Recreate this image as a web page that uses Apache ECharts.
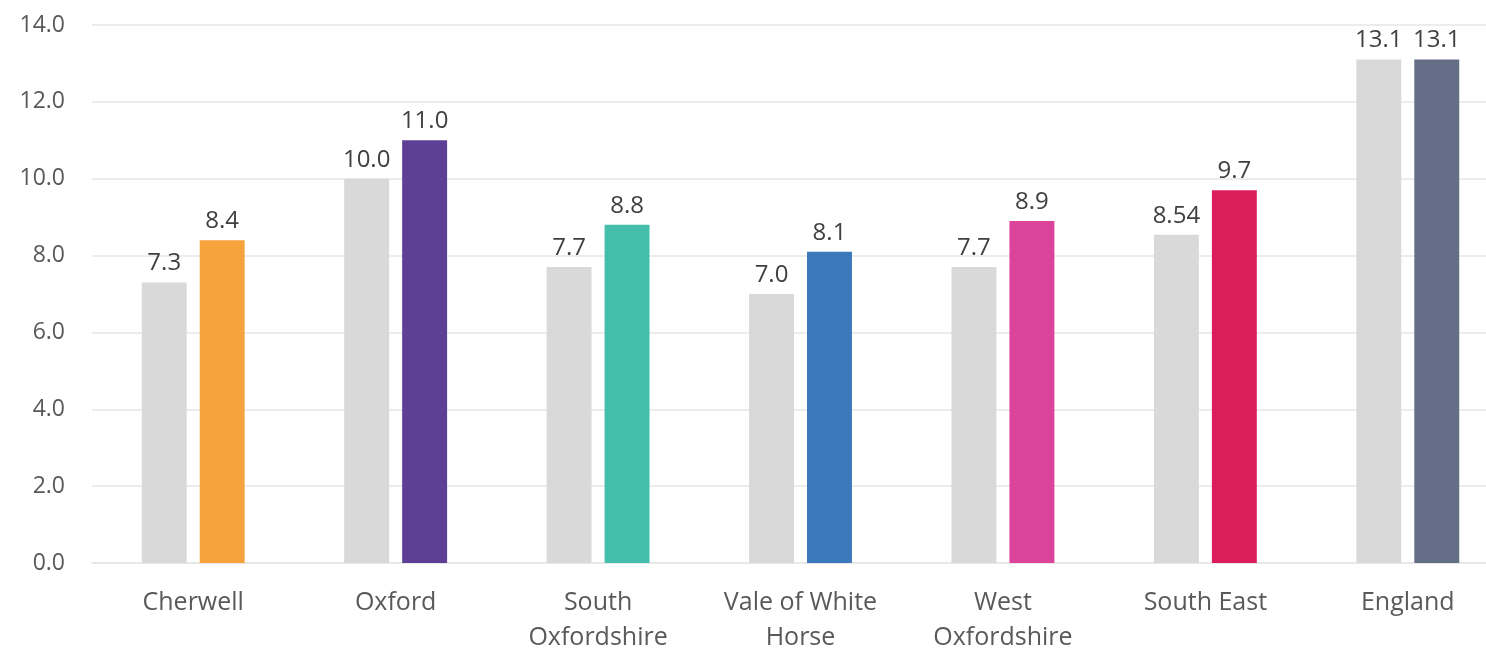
<!DOCTYPE html>
<html>
<head>
<meta charset="utf-8">
<style>
  html, body { margin: 0; padding: 0; background: #ffffff; }
  #chart { width: 1486px; height: 648px; }
</style>
<script src="https://cdn.jsdelivr.net/npm/echarts@6/dist/echarts.min.js"></script>
</head>
<body>
<div id="chart"></div>
<script>
// Area names along the x axis
const categories = ['Cherwell', 'Oxford', 'South\nOxfordshire', 'Vale of White\nHorse', 'West\nOxfordshire', 'South East', 'England'];

// Earlier period (grey bars) and later period (coloured bars)
const earlierValues = [7.3, 10.0, 7.7, 7.0, 7.7, 8.54, 13.1];
const laterValues   = [8.4, 11.0, 8.8, 8.1, 8.9, 9.7, 13.1];

// Value labels as printed above each bar
const earlierLabels = ['7.3', '10.0', '7.7', '7.0', '7.7', '8.54', '13.1'];
const laterLabels   = ['8.4', '11.0', '8.8', '8.1', '8.9', '9.7', '13.1'];

// Y axis ticks
const yTicks = { min: 0, max: 14, interval: 2 };

// One colour per area for the later-period bars
const areaColours = ['#F7A33D', '#5E3F96', '#44BFAB', '#3C78BC', '#DB449A', '#DB1E5B', '#646E87'];

const fontFamily = '"Open Sans", "Noto Sans", sans-serif';

const chart = echarts.init(document.getElementById('chart'), null, { renderer: 'canvas' });

const labelStyle = {
  show: true,
  position: 'top',
  distance: 7,
  color: '#404040',
  fontSize: 24,
  fontFamily: fontFamily
};

chart.setOption({
  animation: false,
  backgroundColor: '#ffffff',
  grid: {
    left: 92, right: -23, top: 25, bottom: 85,
    containLabel: false,
    outerBoundsMode: 'none'
  },
  xAxis: {
    type: 'category',
    data: categories,
    axisLine: { show: true, lineStyle: { color: '#E6E6E6', width: 1.5 } },
    axisTick: { show: false },
    axisLabel: {
      color: '#595959',
      fontSize: 25,
      fontFamily: fontFamily,
      lineHeight: 35,
      margin: 22,
      interval: 0
    }
  },
  yAxis: {
    type: 'value',
    min: yTicks.min,
    max: yTicks.max,
    interval: yTicks.interval,
    axisLine: { show: false },
    axisTick: { show: false },
    splitLine: { lineStyle: { color: '#E6E6E6', width: 1.5 } },
    axisLabel: {
      color: '#595959',
      fontSize: 23,
      fontFamily: fontFamily,
      margin: 27,
      formatter: v => v.toFixed(1)
    }
  },
  series: [
    {
      type: 'bar',
      data: earlierValues,
      barWidth: '22.2%',
      barGap: '29%',
      itemStyle: { color: '#D9D9D9' },
      label: Object.assign({}, labelStyle, { formatter: p => earlierLabels[p.dataIndex] })
    },
    {
      type: 'bar',
      data: laterValues,
      barWidth: '22.2%',
      itemStyle: { color: p => areaColours[p.dataIndex] },
      label: Object.assign({}, labelStyle, { formatter: p => laterLabels[p.dataIndex] })
    }
  ]
});
</script>
</body>
</html>
